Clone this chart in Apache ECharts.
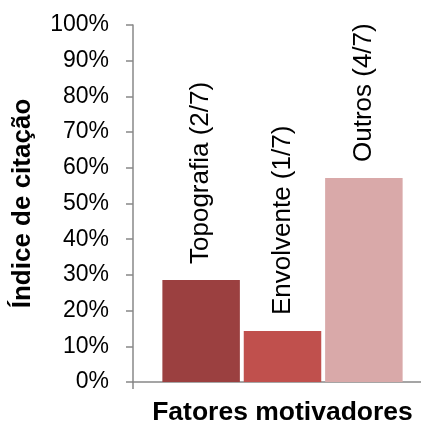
<!DOCTYPE html>
<html><head><meta charset="utf-8">
<script src="https://cdn.jsdelivr.net/npm/echarts@6/dist/echarts.min.js"></script>
<style>html,body{margin:0;padding:0;background:#fff}#c{width:421px;height:423px}</style>
</head><body><div id="c"></div>
<script>
const categories = ['Topografia (2/7)', 'Envolvente (1/7)', 'Outros (4/7)'];
const values = [2/7*100, 1/7*100, 4/7*100];
const colors = ['#9B4040', '#C0504D', '#D9A9A9'];
const yTicks = [0,10,20,30,40,50,60,70,80,90,100];

const chart = echarts.init(document.getElementById('c'));
const font = 'Liberation Sans, Arial, sans-serif';
chart.setOption({
  animation: false,
  grid: {left: 133, right: -11, top: 25, bottom: 41, containLabel: false, outerBoundsMode: 'none'},
  xAxis: {
    type: 'category', data: [''],
    name: 'Fatores motivadores', nameLocation: 'middle', nameGap: 17,
    nameTextStyle: {fontFamily: font, fontWeight: 'bold', fontSize: 26.5, color: '#000'},
    axisLine: {lineStyle: {color: '#888', width: 1.5}},
    axisTick: {show: true, length: 7, lineStyle: {color: '#888', width: 1.5}},
    axisLabel: {show: false}
  },
  yAxis: {
    type: 'value', min: 0, max: 100, interval: 10,
    name: 'Índice de citação', nameLocation: 'middle', nameGap: 97, nameRotate: 90,
    nameTextStyle: {fontFamily: font, fontWeight: 'bold', fontSize: 26, color: '#000'},
    axisLine: {show: true, lineStyle: {color: '#888', width: 1.5}},
    axisTick: {show: true, length: 7, lineStyle: {color: '#888', width: 1.5}},
    splitLine: {show: false},
    axisLabel: {fontFamily: font, fontSize: 23, color: '#000', margin: 24,
      formatter: v => yTicks.includes(v) ? v + '%' : ''}
  },
  series: categories.map((c, i) => ({
    type: 'bar', name: c, data: [values[i]],
    barWidth: 77.5, barGap: '5%',
    itemStyle: {color: colors[i]},
    label: {show: true, position: 'top', rotate: 90, align: 'left', verticalAlign: 'middle',
      distance: 16, formatter: c, fontFamily: font, fontSize: 26, color: '#000'}
  }))
});
</script></body></html>
